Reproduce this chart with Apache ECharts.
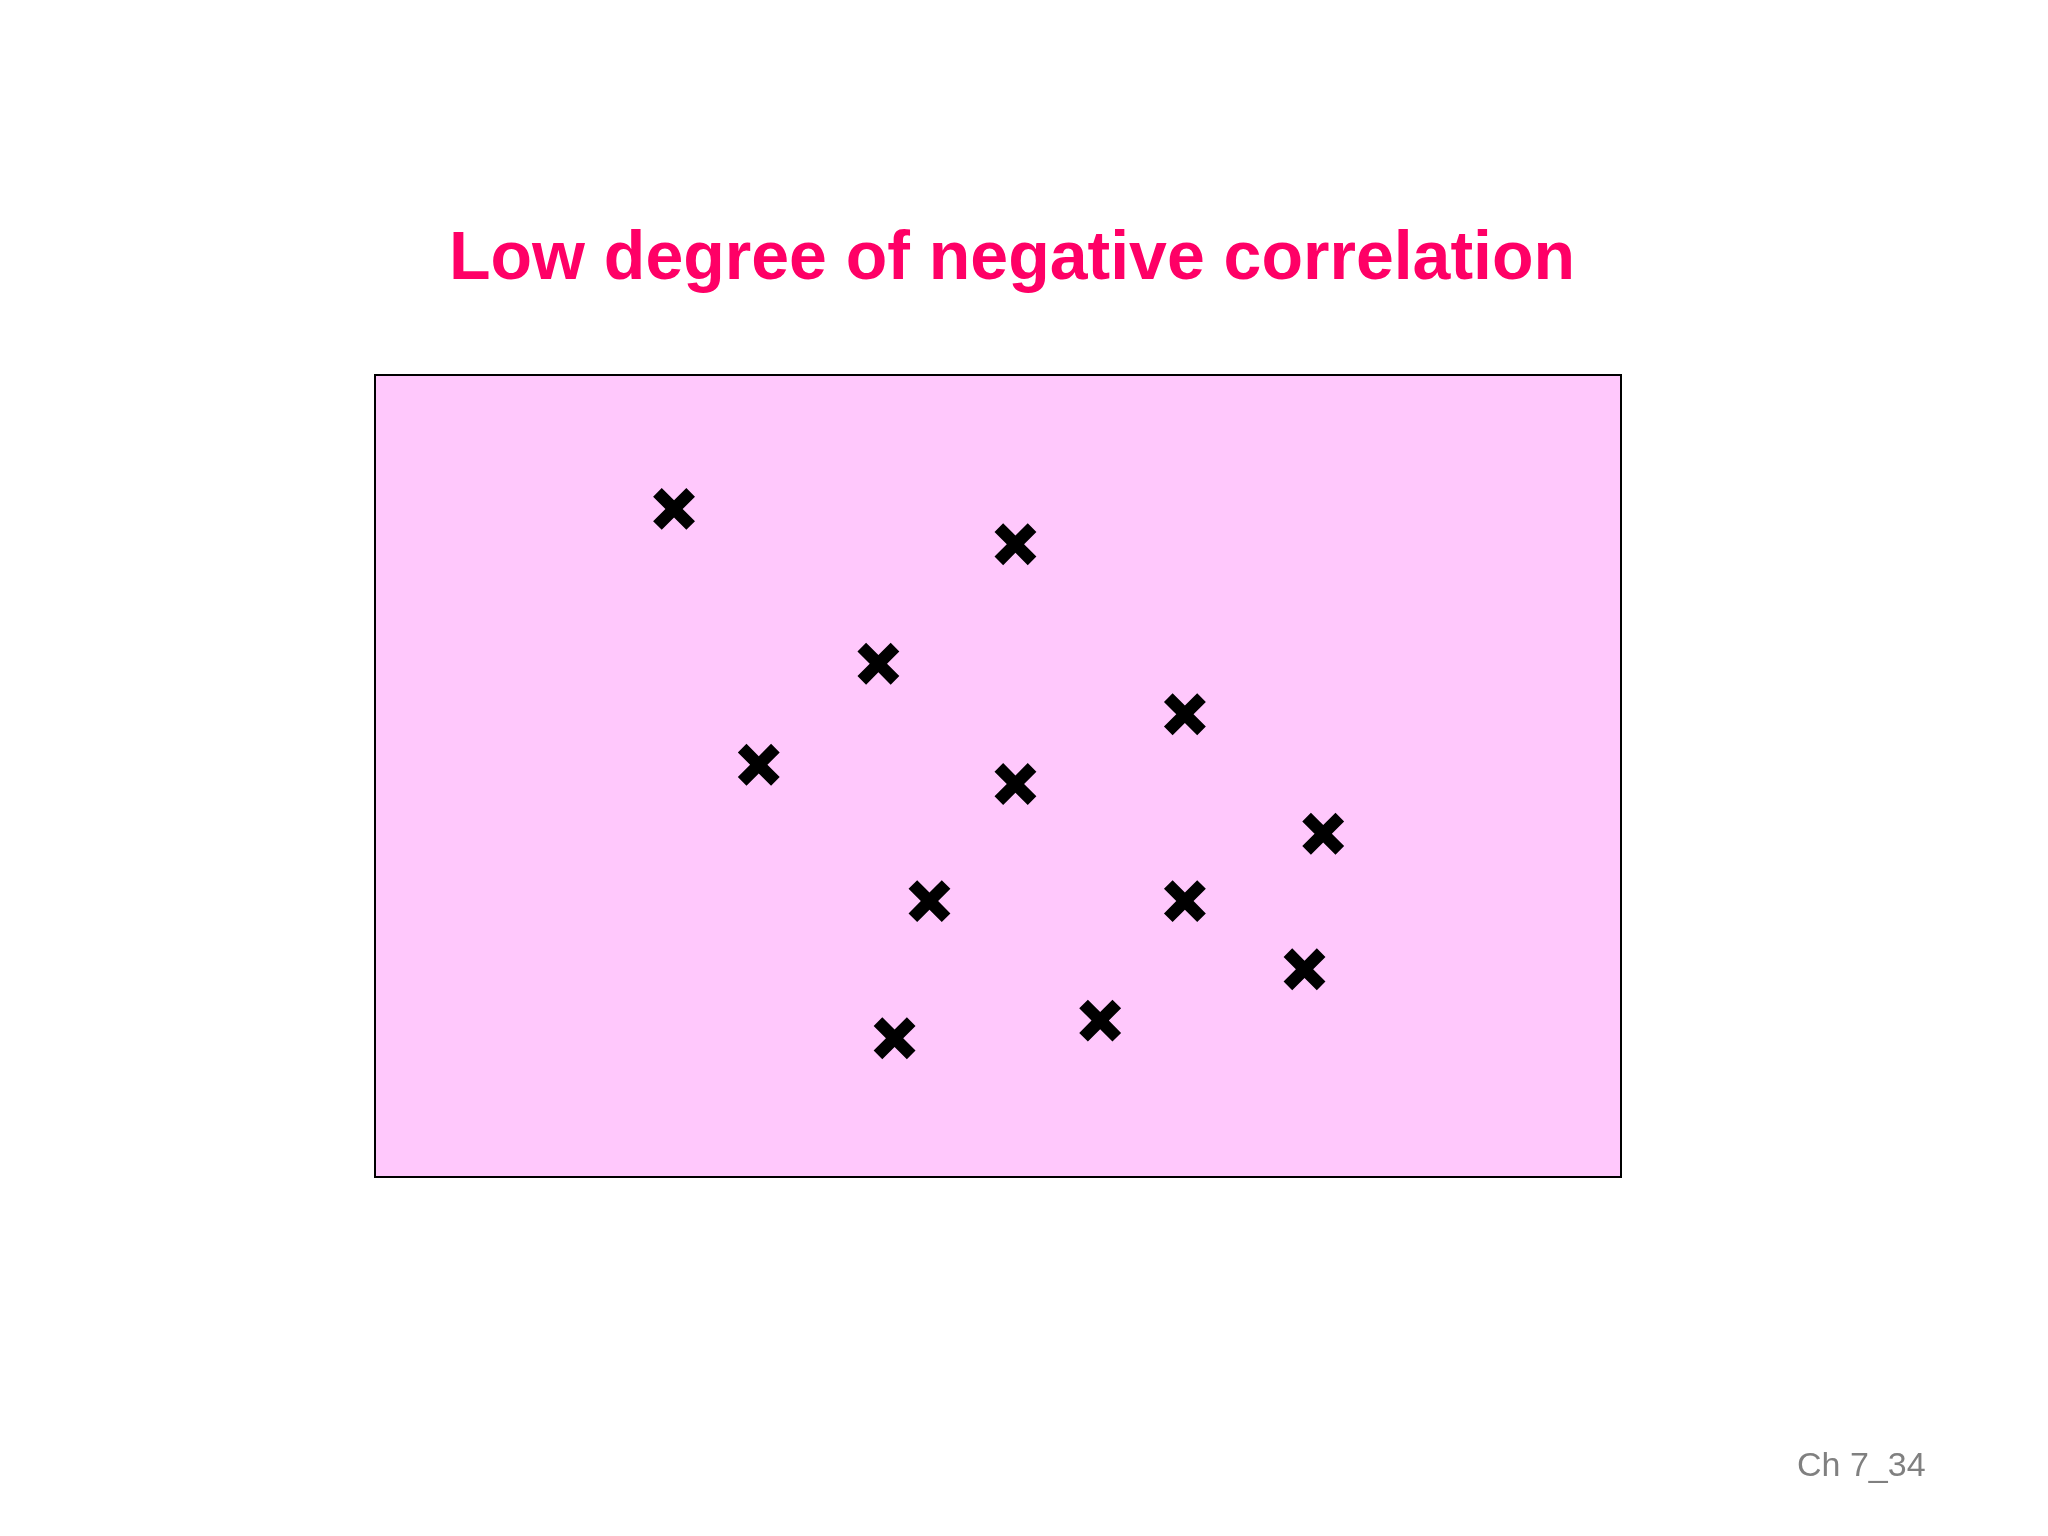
<!DOCTYPE html>
<html>
<head>
<meta charset="utf-8">
<title>Low degree of negative correlation</title>
<script src="https://cdn.jsdelivr.net/npm/echarts@6/dist/echarts.min.js"></script>
<style>
  html, body { margin: 0; padding: 0; background: #fff; }
  #chart { width: 2048px; height: 1536px; }
</style>
</head>
<body>
<div id="chart"></div>
<script>
// scatter values (arbitrary units, 0..100 on both axes)
const xValues = [24.0, 51.4, 40.4, 65.0, 30.8, 51.4, 76.1, 44.5, 65.0, 74.6, 58.2, 41.7]
const yValues = [83.3, 78.9, 64.0, 57.7, 51.4, 49.0, 42.8, 34.4, 34.4, 25.9, 19.5, 17.3]

const titleText = 'Low degree of negative correlation'
const footerText = 'Ch 7_34'

// plus sign, rotated 45deg -> cross marker
const crossPath = 'path://M37,0 L63,0 L63,37 L100,37 L100,63 L63,63 L63,100 L37,100 L37,63 L0,63 L0,37 L37,37 Z'

const chart = echarts.init(document.getElementById('chart'))

chart.setOption({
  backgroundColor: '#ffffff',
  animation: false,
  title: [{
    text: titleText,
    left: 444,
    top: 221,
    textStyle: {
      fontFamily: 'Liberation Sans, Arial, sans-serif',
      fontSize: 68,
      fontWeight: 'bold',
      color: '#ff0066'
    }
  }, {
    text: footerText,
    left: 1792,
    top: 1445,
    textStyle: {
      fontFamily: 'Liberation Sans, Arial, sans-serif',
      fontSize: 34,
      fontWeight: 'normal',
      color: '#808080'
    }
  }],
  grid: {
    left: 375,
    top: 375,
    width: 1246,
    height: 802,
    show: true,
    backgroundColor: '#ffc8fc',
    borderColor: '#000000',
    borderWidth: 2
  },
  xAxis: {
    type: 'value',
    min: 0,
    max: 100,
    show: false
  },
  yAxis: {
    type: 'value',
    min: 0,
    max: 100,
    show: false
  },
  series: [{
    type: 'scatter',
    data: xValues.map((x, i) => [x, yValues[i]]),
    symbol: crossPath,
    symbolSize: 47,
    symbolRotate: 45,
    itemStyle: {
      color: '#000000',
      opacity: 1
    }
  }]
})
</script>
</body>
</html>
